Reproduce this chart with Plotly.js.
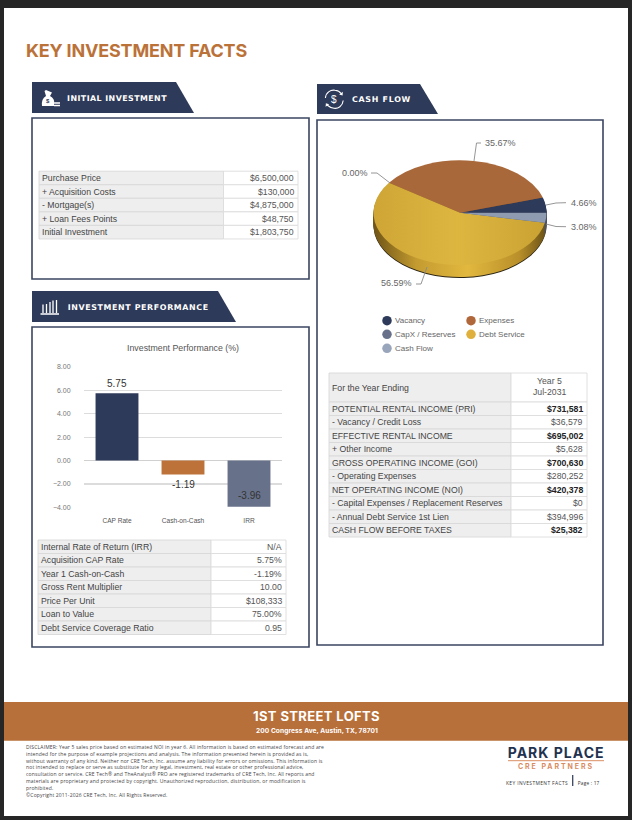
<!DOCTYPE html>
<html><head><meta charset="utf-8">
<script src="https://cdn.plot.ly/plotly-3.0.1.min.js"></script>
<style>html,body{margin:0;padding:0;background:#262626;overflow:hidden}</style>
</head><body><div id="chart" style="width:632px;height:820px"></div>
<script>
// ---------- data ----------
const barCategories = ['CAP Rate', 'Cash-on-Cash', 'IRR'];
const barValues = [5.75, -1.19, -3.96];
const pieLabels = ['Vacancy', 'Expenses', 'CapX / Reserves', 'Debt Service', 'Cash Flow'];
const pieValues = [4.66, 35.67, 0.00, 56.59, 3.08];
const pieColors = ['#2E3A59', '#A9683A', '#67728A', '#D6AE3C', '#8E9BB0'];
const pieRimColors = ['#1B2236', '#7A4A28', '#454D60', '#C49C30', '#4E5564'];
const initialLabels = ['Purchase Price', '+ Acquisition Costs', '- Mortgage(s)', '+ Loan Fees Points', 'Initial Investment'];
const initialValues = ['$6,500,000', '$130,000', '$4,875,000', '$48,750', '$1,803,750'];
const perfLabels = ['Internal Rate of Return (IRR)', 'Acquisition CAP Rate', 'Year 1 Cash-on-Cash', 'Gross Rent Multiplier', 'Price Per Unit', 'Loan to Value', 'Debt Service Coverage Ratio'];
const perfValues = ['N/A', '5.75%', '-1.19%', '10.00', '$108,333', '75.00%', '0.95'];
const cashLabels = ['POTENTIAL RENTAL INCOME (PRI)', '- Vacancy / Credit Loss', 'EFFECTIVE RENTAL INCOME', '+ Other Income', 'GROSS OPERATING INCOME (GOI)', '- Operating Expenses', 'NET OPERATING INCOME (NOI)', '- Capital Expenses / Replacement Reserves', '- Annual Debt Service 1st Lien', 'CASH FLOW BEFORE TAXES'];
const cashValues = ['$731,581', '$36,579', '$695,002', '$5,628', '$700,630', '$280,252', '$420,378', '$0', '$394,996', '$25,382'];
const cashBold = [true, false, true, false, true, false, true, false, false, true];
const disclaimerLines = [
 'DISCLAIMER: Year 5 sales price based on estimated NOI in year 6. All information is based on estimated forecast and are',
 'intended for the purpose of example projections and analysis. The information presented herein is provided as is,',
 'without warranty of any kind. Neither nor CRE Tech, Inc. assume any liability for errors or omissions. This information is',
 'not intended to replace or serve as substitute for any legal, investment, real estate or other professional advice,',
 'consultation or service. CRE Tech® and TheAnalyst® PRO are registered trademarks of CRE Tech, Inc. All reports and',
 'materials are proprietary and protected by copyright. Unauthorized reproduction, distribution, or modification is',
 'prohibited.',
 '©Copyright 2011-2026 CRE Tech, Inc. All Rights Reserved.'];

// ---------- helpers ----------
const W = 632, H = 820;
const NAVY = '#2E3A59', RUST = '#B8703A', SANS = 'Liberation Sans, Arial, sans-serif', HEAD = 'Inter, sans-serif', TAB = 'DejaVu Sans, sans-serif';
const shapes = [], annotations = [];
const T = (x, y, text, size, color, anchor, family, bold) => annotations.push({
  xref:'x', yref:'y', x, y, text: bold ? '<b>'+text+'</b>' : text, showarrow:false, xanchor:anchor||'left', yanchor:'middle',
  borderpad:0, borderwidth:0, font:{size, color, family:family||SANS}});
const P = (path, fill, line, lw, layer) => shapes.push({type:'path', xref:'x', yref:'y', path,
  fillcolor: fill||'rgba(0,0,0,0)', line:{color:line||'rgba(0,0,0,0)', width:lw||0}, layer:layer||'below'});
const R = (x0,y0,x1,y1,fill,line,lw) => shapes.push({type:'rect', xref:'x', yref:'y', x0,y0,x1,y1,
  fillcolor:fill||'rgba(0,0,0,0)', line:{color:line||'rgba(0,0,0,0)', width:lw||0}, layer:'below'});

// page
R(4, 8, 628, 816, '#FFFFFF');
T(26, 50, 'KEY INVESTMENT FACTS', 18, '#BB7239', 'left', HEAD, true);

// panels + tabs
function panel(x0, y0, x1, y1, tabTop, tabBottom, tabEndTop, tabEndBot, label, labelX, labelY){
  P(`M ${x0} ${tabTop} L ${tabEndTop} ${tabTop} L ${tabEndBot} ${tabBottom} L ${x0} ${tabBottom} Z`, NAVY);
  R(x0, y0, x1, y1, '#FFFFFF', '#3A4560', 1.6);
  T(labelX, labelY, label, 7.9, '#FFFFFF', 'left', TAB, true);
}
panel(32,118,309,279, 82,113, 176,194, 'INITIAL INVESTMENT', 67, 98);
panel(32,327,309,647, 291,322, 218,236, 'INVESTMENT PERFORMANCE', 67.5, 307);
panel(317,120,603,645, 84,114, 420,438, 'CASH FLOW', 352, 99.5);

// icons
P('M 46 90 L 52 92.5 L 50 96 Q 55 99 54 103 L 54 106 L 42 106 Q 41 99 46 96 L 46 96 L 44.5 91 Z', '#FFFFFF');
P('M 54 103 L 60 103 M 54 105.5 L 60 105.5', null, '#FFFFFF', 1.4);
P('M 40.5 314 L 59 314 M 43 304.5 L 43 313 M 46.5 304 L 46.5 313 M 50 302 L 50 313 M 53 300.5 L 53 313 M 56.5 300 L 56.5 313', null, '#FFFFFF', 1.3);
P('M 325.4 98 C 326 92 331 89.5 335 90.3 C 338 90.5 340 92 341.5 94', null, '#FFFFFF', 1.1);
P('M 343.2 100.5 C 342.7 106 338 109 334 108.3 C 331 108 329 106.7 327 105', null, '#FFFFFF', 1.1);
P('M 342.8 91.8 L 342.6 95.4 L 339.2 94.6 Z', '#FFFFFF');
P('M 325.6 106.8 L 325.9 103.2 L 329.2 104.2 Z', '#FFFFFF');
T(334.3, 99, '$', 10, '#FFFFFF', 'center', SANS);
T(47.6, 101, '$', 6, NAVY, 'center', SANS, true);

// tables
function table(x0, xm, x1, y0, rowH, labels, values, bold){
  labels.forEach((l, i) => {
    const a = y0 + i*rowH, b = a + rowH;
    R(x0, a, xm, b, '#EEEEEE', '#D8D8D8', 0.9);
    R(xm, a, x1, b, '#FFFFFF', '#DDDDDD', 0.9);
    T(x0+3, (a+b)/2, l, 8.7, '#444444');
    T(x1-4, (a+b)/2, bold && bold[i] ? '<b>'+values[i]+'</b>' : values[i], 8.7, bold && bold[i] ? '#222222' : '#555555', 'right');
  });
}
table(39, 223.5, 298, 171.2, 13.55, initialLabels, initialValues);
table(38, 211, 286, 540, 13.5, perfLabels, perfValues);
R(329, 373, 511, 402, '#EEEEEE', '#D8D8D8', 0.9);
R(511, 373, 587, 402, '#FFFFFF', '#DDDDDD', 0.9);
T(332, 388, 'For the Year Ending', 8.7, '#444444');
T(549, 380.5, 'Year 5', 8.7, '#555555', 'center');
T(549, 392, 'Jul-2031', 8.7, '#555555', 'center');
table(329, 511, 587, 402, 13.5, cashLabels, cashValues, cashBold);

// bar chart title and value labels
T(182.7, 348, 'Investment Performance (%)', 8.8, '#555555', 'center');
const barLabelShift = [10.3, -9.8, 11];
barValues.forEach((v, i) => annotations.push({xref:'x2', yref:'y2', x:barCategories[i], y:v, yshift:barLabelShift[i],
  text:v.toFixed(2), showarrow:false, xanchor:'center', yanchor:'middle', borderpad:0,
  font:{size:10, color:'#333333', family:SANS}}));

// pie leaders and labels
const cx = 460, cy = 212.7, rx = 86.5, squash = 0.605, depth = 13;
const leaders = [
 'M 474 161 L 476.5 143 L 481 143',
 'M 371 173 L 377 173 L 390 183',
 'M 546 205 L 556 203 L 566 202.7',
 'M 546 224 L 556 226.5 L 566 226.7',
 'M 416 284 L 421 284 L 427 267'];
leaders.forEach(d => P(d, null, '#8A8A8A', 0.9, 'above'));
const pct = v => v.toFixed(2) + '%';
T(484.7, 143, pct(pieValues[1]), 9, '#666666');
T(342, 173, pct(pieValues[2]), 9, '#666666');
T(571, 202.7, pct(pieValues[0]), 9, '#666666');
T(571, 227, pct(pieValues[4]), 9, '#666666');
T(381, 283, pct(pieValues[3]), 9, '#666666');

// legend labels
const legendX = [387, 471, 387, 471, 387], legendY = [320.7, 320.7, 334.3, 334.3, 348.3];
const legendColors = ['#2E3A59', '#B0683A', '#67728A', '#E0B03C', '#98A5BA'];
pieLabels.forEach((l, i) => T(legendX[i]+8, legendY[i], l, 8, '#666666'));

// footer
R(4, 702, 628, 740.7, RUST);
T(316, 716, '1ST STREET LOFTS', 13, '#FFFFFF', 'center', HEAD, true);
T(316, 731, '200 Congress Ave, Austin, TX, 78701', 6.6, '#FFFFFF', 'center', HEAD, true);
const discY = [746.7, 753.6, 760.5, 767.3, 774.1, 781, 787.9, 794.7];
disclaimerLines.forEach((l,i) => T(26, discY[i], l, 5, '#444444', 'left', 'Open Sans, sans-serif'));
T(556, 752, 'PARK PLACE', 14, '#1F3350', 'center', HEAD, true);
P('M 508 760.7 L 604 760.7', null, '#DB8F64', 1);
T(556, 766.9, 'CRE PARTNERS', 7, '#D98C60', 'center', HEAD, true);
T(537, 782.7, 'KEY INVESTMENT FACTS', 4.9, '#333333', 'center', 'Open Sans, sans-serif');
P('M 572.7 775 L 572.7 786', null, '#3A4560', 1.3);
T(588.5, 782.7, 'Page : 17', 4.8, '#333333', 'center', 'Open Sans, sans-serif');

// ---------- traces ----------
const traces = [];
traces.push({type:'scatter', mode:'markers', xaxis:'x', yaxis:'y', x:legendX, y:legendY, hoverinfo:'skip', showlegend:false,
  marker:{size:9.5, color:legendColors, line:{width:0}}});
traces.push({type:'bar', xaxis:'x2', yaxis:'y2', x:barCategories, y:barValues, width:0.65, hoverinfo:'skip', showlegend:false,
  marker:{color:['#2E3A59', '#BC7239', '#67728A'], line:{width:0}}});
// pie, stacked to give depth; the first slice must END at the 3 o'clock start when running counterclockwise
const pieTotal = pieValues.reduce((a,b)=>a+b,0);
const pieRotation = 90 - pieValues[0]/pieTotal*360;
const pieDomain = off => ({
  x:[(cx-rx)/W, (cx+rx)/W],
  y:[1-(cy+off/squash+rx)/H, 1-(cy+off/squash-rx)/H]});
for (let k = depth; k >= 0; k--) {
  traces.push({type:'pie', labels:pieLabels, values:pieValues, sort:false, direction:'counterclockwise', rotation:pieRotation,
    textinfo:'none', hoverinfo:'skip', showlegend:false, domain:pieDomain(k),
    marker:{colors: k===0 ? pieColors : (k===depth ? pieRimColors.map(()=> '#2B2412') : pieRimColors), line:{width:0}}});
}

const layout = {
  width:W, height:H, autosize:false, margin:{l:0,r:0,t:0,b:0}, paper_bgcolor:'#262626', plot_bgcolor:'rgba(0,0,0,0)',
  showlegend:false, shapes, annotations, bargap:0.35,
  xaxis:{domain:[0,1], range:[0,W], visible:false, fixedrange:true},
  yaxis:{domain:[0,1], range:[H,0], visible:false, fixedrange:true},
  xaxis2:{domain:[84/W,282/W], anchor:'y2', tickfont:{size:6.6,color:'#555555',family:SANS}, ticks:'outside', ticklen:7, tickcolor:'rgba(0,0,0,0)', showline:false, showgrid:false, fixedrange:true, zeroline:false, tickangle:0, automargin:false},
  yaxis2:{domain:[1-507.3/H,1-367/H], anchor:'x2', range:[-4,8], tickvals:[-4,-2,0,2,4,6,8], tickformat:'.2f', tickfont:{size:7,color:'#777777',family:SANS}, ticks:'outside', ticklen:11, tickcolor:'rgba(0,0,0,0)', gridcolor:'#DCDCDC', gridwidth:1.3, zeroline:true, zerolinecolor:'#D0D0D0', zerolinewidth:1.3, showline:false, fixedrange:true, automargin:false}
};

Plotly.newPlot('chart', traces, layout, {staticPlot:true, displayModeBar:false, responsive:false}).then(gd => {
  const svg = gd.querySelector('.main-svg');
  const NS = 'http://www.w3.org/2000/svg';
  const defs = svg.querySelector('defs') || svg.insertBefore(document.createElementNS(NS,'defs'), svg.firstChild);
  const grad = (id, stops) => { const g = document.createElementNS(NS,'linearGradient'); g.id=id;
    stops.forEach(([o,c]) => { const s=document.createElementNS(NS,'stop'); s.setAttribute('offset',o); s.setAttribute('stop-color',c); g.appendChild(s); });
    defs.appendChild(g); };
  grad('goldTop', [['0','#CFA636'],['0.5','#DDB640'],['1','#C9A233']]);
  grad('goldRim', [['0','#6E5416'],['0.25','#C49B30'],['0.55','#E2B83F'],['0.85','#B98F2A'],['1','#6E5416']]);
  // flatten the pies into the perspective ellipse, keeping the centre where it is
  const pl = svg.querySelector('.pielayer');
  pl.setAttribute('transform', `translate(0 ${cy*(1-squash)}) scale(1 ${squash})`);
  const tr = pl.querySelectorAll('.trace');
  tr.forEach((t, n) => {
    const s = t.querySelectorAll('.slice path.surface');
    const gold = s[3];
    if (gold && n > 0 && n < tr.length-1) gold.style.fill = 'url(#goldRim)';
    if (gold && n === tr.length-1) gold.style.fill = 'url(#goldTop)';
  });
  // fit heading lettering to the reference's extents by tracking
  const fit = {
    'KEY INVESTMENT FACTS@18':[26,247], 'INITIAL INVESTMENT@7.9':[67,167], 'INVESTMENT PERFORMANCE@7.9':[67.7,208.7],
    'CASH FLOW@7.9':[352,411], '1ST STREET LOFTS@13':[253,380], '200 Congress Ave, Austin, TX, 78701@6.6':[256,378],
    'PARK PLACE@14':[507.7,604.6], 'CRE PARTNERS@7':[518,594], 'KEY INVESTMENT FACTS@4.9':[506,568], 'Page : 17@4.8':[577.7,599.5]};
  disclaimerLines.forEach(l => { fit[l+'@5'] = null; });
  let discSpacing = null;
  gd.querySelectorAll('.annotation-text').forEach(e => {
    const txt = e.textContent, size = parseFloat(e.style.fontSize), k = txt + '@' + size;
    const n = txt.length, w = e.getComputedTextLength();
    let left, spacing;
    if (fit[k]) { left = fit[k][0]; spacing = (fit[k][1]-fit[k][0]-w)/n; }
    else if (k in fit) {
      if (discSpacing === null) discSpacing = (298-w)/n;   // first line spans 26..324
      left = 26; spacing = discSpacing;
    } else return;
    e.style.letterSpacing = spacing + 'px';
    const rectNow = e.getBoundingClientRect();
    e.setAttribute('x', parseFloat(e.getAttribute('x')||0) + (left-rectNow.left));
  });
});
</script></body></html>
